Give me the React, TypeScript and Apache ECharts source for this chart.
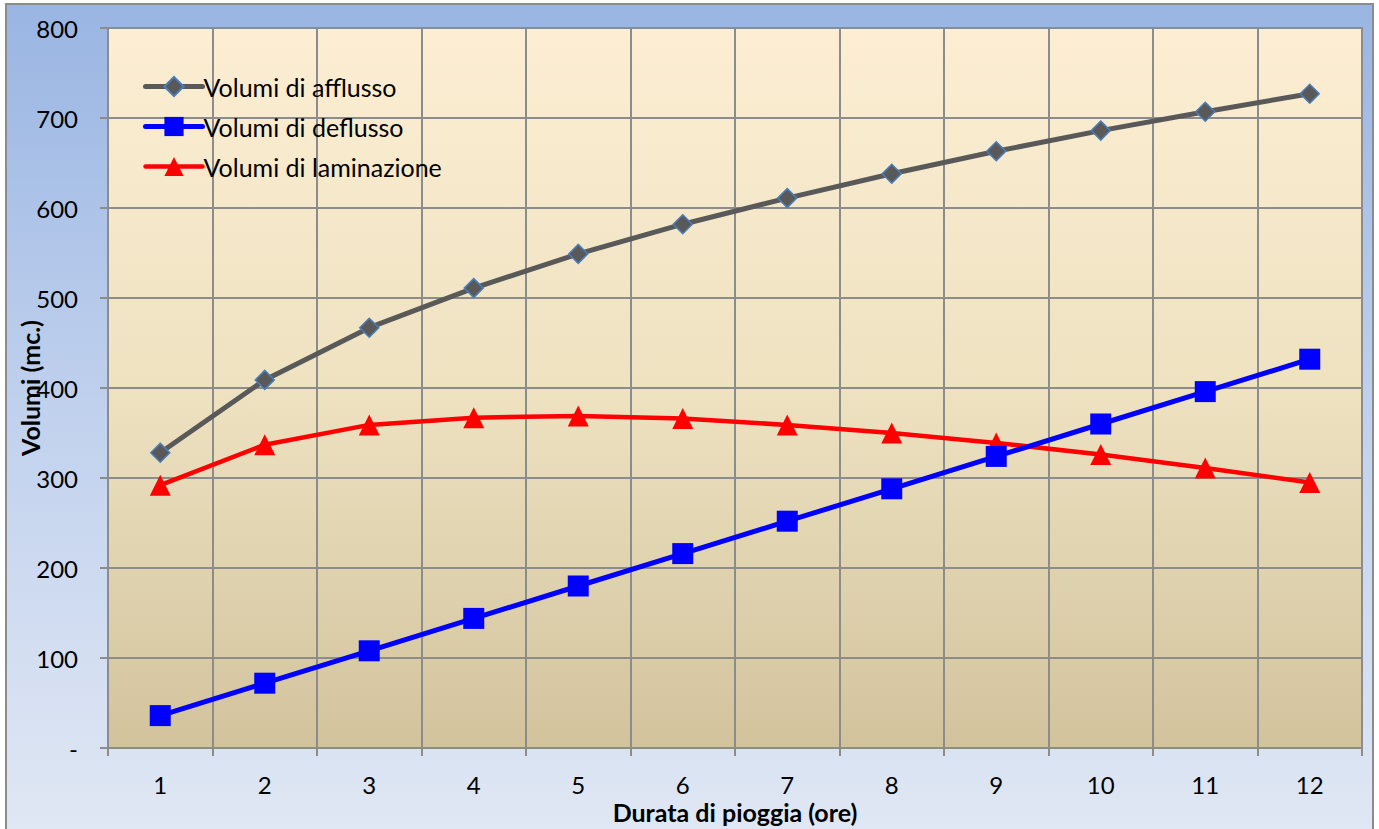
import React, { useEffect, useRef } from "react";
import * as echarts from "echarts";

const categories = ["1", "2", "3", "4", "5", "6", "7", "8", "9", "10", "11", "12"];
const afflusso = [328, 409, 467, 511, 549, 582, 611, 638, 663, 686, 707, 727];
const deflusso = [36, 72, 108, 144, 180, 216, 252, 288, 324, 360, 396, 432];
const laminazione = [292, 337, 359, 367, 369, 366, 359, 350, 339, 326, 311, 295];
const seriesNames = ["Volumi di afflusso", "Volumi di deflusso", "Volumi di laminazione"];

const FONT = "Lato, 'Open Sans', sans-serif";

export default function App() {
  const ref = useRef<HTMLDivElement>(null);
  useEffect(() => {
    document.body.style.margin = "0";
    const chart = echarts.init(ref.current!, null, { renderer: "svg" });
    chart.setOption({
      animation: false,
      textStyle: { fontFamily: FONT },
      graphic: [
        {
          type: "rect",
          z: -10,
          silent: true,
          shape: { x: 6, y: 4, width: 1367, height: 840 },
          style: {
            fill: new echarts.graphic.LinearGradient(0, 0, 0, 1, [
              { offset: 0, color: "#99b5e2" },
              { offset: 0.5, color: "#c2d2ee" },
              { offset: 1, color: "#e1e8f4" },
            ]),
            stroke: "#8c8c8c",
            lineWidth: 2,
          },
        },
      ],
      grid: {
        left: 108,
        right: 17,
        top: 28,
        bottom: 81,
        containLabel: false,
        outerBoundsMode: "none",
        show: true,
        backgroundColor: new echarts.graphic.LinearGradient(0, 0, 0, 1, [
          { offset: 0, color: "#fdeed3" },
          { offset: 0.5, color: "#eee2c1" },
          { offset: 1, color: "#d2c39d" },
        ]),
        borderColor: "#8c8c8c",
        borderWidth: 2,
      },
      legend: {
        orient: "vertical",
        left: 143,
        top: 74,
        padding: 0,
        itemGap: 15,
        itemWidth: 57,
        itemHeight: 24,
        lineStyle: { width: "inherit", cap: "round" },
        textStyle: { fontFamily: FONT, fontSize: 25, color: "#000", padding: [0, 0, 0, -4] },
        data: seriesNames,
      },
      xAxis: {
        type: "category",
        data: categories,
        boundaryGap: true,
        name: "Durata di pioggia (ore)",
        nameLocation: "middle",
        nameGap: 51,
        nameMoveOverlap: false,
        nameTextStyle: { fontFamily: FONT, fontSize: 25, fontWeight: "bold", color: "#000" },
        axisLine: { show: true, lineStyle: { color: "#8c8c8c", width: 2 } },
        axisTick: { show: true, interval: 0, length: 8, lineStyle: { color: "#8c8c8c", width: 2 } },
        axisLabel: { fontFamily: FONT, fontSize: 24, color: "#000", margin: 24 },
        splitLine: { show: true, interval: 0, lineStyle: { color: "#8c8c8c", width: 2 } },
      },
      yAxis: {
        type: "value",
        min: 0,
        max: 800,
        interval: 100,
        name: "Volumi (mc.)",
        nameLocation: "middle",
        nameGap: 66,
        nameRotate: 90,
        nameMoveOverlap: false,
        nameTextStyle: { fontFamily: FONT, fontSize: 25, fontWeight: "bold", color: "#000" },
        axisLine: { show: true, lineStyle: { color: "#8c8c8c", width: 2 } },
        axisTick: { show: true, length: 8, lineStyle: { color: "#8c8c8c", width: 2 } },
        axisLabel: {
          fontFamily: FONT,
          fontSize: 24,
          color: "#000",
          margin: 30,
          formatter: (v: number) => (v === 0 ? "-" : String(v)),
        },
        splitLine: { show: true, lineStyle: { color: "#8c8c8c", width: 2 } },
      },
      series: [
        {
          name: seriesNames[0],
          type: "line",
          data: afflusso,
          symbol: "diamond",
          symbolSize: 19,
          lineStyle: { color: "#595959", width: 5 },
          itemStyle: { color: "#595959", borderColor: "#4a7ebb", borderWidth: 1.5 },
          z: 3,
        },
        {
          name: seriesNames[1],
          type: "line",
          data: deflusso,
          symbol: "rect",
          symbolSize: 21,
          lineStyle: { color: "#0000ff", width: 5 },
          itemStyle: { color: "#0000ff" },
          z: 4,
        },
        {
          name: seriesNames[2],
          type: "line",
          data: laminazione,
          symbol: "triangle",
          symbolSize: 21,
          lineStyle: { color: "#ff0000", width: 4.5 },
          itemStyle: { color: "#ff0000" },
          z: 3,
        },
      ],
    });
    return () => chart.dispose();
  }, []);
  return <div ref={ref} style={{ width: 1379, height: 829 }} />;
}
